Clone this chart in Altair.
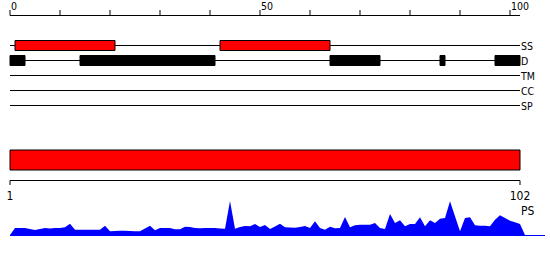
import altair as alt
import pandas as pd

FONT = "DejaVu Sans Condensed, DejaVu Sans"

# Tracks
tracks = ["SS", "D", "TM", "CC", "SP"]
ss_start = [1, 42]
ss_end = [21, 64]
d_start = [0, 14, 64, 86, 97]
d_end = [3, 41, 74, 87, 102]
seq_len = 102

# Ruler
ruler_ticks = [0, 10, 20, 30, 40, 50, 60, 70, 80, 90, 100]
ruler_labels = [0, 50, 100]

# Bottom sequence
ps_labels_pos = [0, 102]
ps_labels_text = ["1", "102"]

# Score profile (one value per position)
score = [0, 7, 7, 7, 6, 5, 6, 7, 6.5, 7, 7, 7.7, 11.3, 5.3, 5.3, 5.3, 5.3, 5.3, 5.3, 9.3,
         3.7, 4, 4.3, 4.3, 4, 3.7, 3.7, 6.5, 9.3, 4.7, 7, 7, 7, 5.7, 5.7, 8.3, 8, 7, 6.7, 7,
         7, 7, 6.5, 6.3, 34, 6.3, 8, 9, 8.7, 11, 8, 10, 6, 8.5, 11.3, 7.7, 7.5, 7.3, 8, 9,
         7, 13.7, 7, 5.3, 8.3, 6.7, 7, 18, 7.7, 9.7, 10.3, 10.3, 10.3, 12, 7, 6, 21, 12, 14.7, 8.7,
         11, 11, 17.7, 8.7, 14.7, 12, 16.3, 17, 33.7, 18.7, 3.7, 17, 17.7, 9.7, 9.3, 9.3, 8.7, 15.3, 19.7, 17,
         14.3, 12.7, 11, 0]
score_pos = list(range(len(score)))

xs = alt.Scale(domain=[0, 102], range=[10, 520])
ys_track = alt.Scale(type="point", domain=tracks, range=[45.5, 105.5], padding=0)

track_df = pd.DataFrame({"track": tracks, "start": [0] * len(tracks), "end": [seq_len] * len(tracks)})
ss_df = pd.DataFrame({"track": ["SS"] * len(ss_start), "start": ss_start, "end": ss_end})
d_df = pd.DataFrame({"track": ["D"] * len(d_start), "start": d_start, "end": d_end})
tick_df = pd.DataFrame({"t": ruler_ticks})
lab_df = pd.DataFrame({"t": ruler_labels})
ps_df = pd.DataFrame({"start": [0], "end": [seq_len]})
psl_df = pd.DataFrame({"pos": ps_labels_pos, "label": ps_labels_text})
score_df = pd.DataFrame({"pos": score_pos, "score": score})

X = lambda f: alt.X(f, type="quantitative", scale=xs, axis=None)

# Ruler
ruler_line = alt.Chart(ps_df).mark_rule(color="black", strokeWidth=1).encode(
    x=X("start"), x2="end", y=alt.value(15.5))
ruler_tick = alt.Chart(tick_df).mark_rule(color="black", strokeWidth=1).encode(
    x=X("t"), y=alt.value(10), y2=alt.value(15.5))
ruler_text = alt.Chart(lab_df).mark_text(align="left", baseline="alphabetic", dx=1,
                                         font=FONT, fontSize=10.5, color="black").encode(
    x=X("t"), y=alt.value(10), text="t:Q")

# Track lines
track_lines = alt.Chart(track_df).mark_rule(color="black", strokeWidth=1).encode(
    x=X("start"), x2="end", y=alt.Y("track:N", scale=ys_track, axis=None))
ss_bars = alt.Chart(ss_df).mark_bar(size=10, color="#ff0000", stroke="black", strokeWidth=1).encode(
    x=X("start"), x2="end", y=alt.Y("track:N", scale=ys_track, axis=None))
d_bars = alt.Chart(d_df).mark_bar(size=10, color="black", stroke="black", strokeWidth=1).encode(
    x=X("start"), x2="end", y=alt.Y("track:N", scale=ys_track, axis=None))
track_text = alt.Chart(track_df).mark_text(align="left", baseline="alphabetic", dy=4,
                                           font=FONT, fontSize=10.5, color="black").encode(
    x=alt.value(521), y=alt.Y("track:N", scale=ys_track, axis=None), text="track:N")

# Bottom sequence bar
ps_bar = alt.Chart(ps_df).mark_bar(color="#ff0000", stroke="black", strokeWidth=1).encode(
    x=X("start"), x2="end", y=alt.value(150), y2=alt.value(170))
ps_line = alt.Chart(ps_df).mark_rule(color="black", strokeWidth=1).encode(
    x=X("start"), x2="end", y=alt.value(180.5))
ps_ticks = alt.Chart(psl_df).mark_rule(color="black", strokeWidth=1).encode(
    x=X("pos"), y=alt.value(180.5), y2=alt.value(185))
ps_text = alt.Chart(psl_df).mark_text(align="center", baseline="alphabetic",
                                      font=FONT, fontSize=12, color="black").encode(
    x=X("pos"), y=alt.value(200), text="label:N")
ps_name = alt.Chart(pd.DataFrame({"n": ["PS"]})).mark_text(
    align="left", baseline="alphabetic", font=FONT, fontSize=12, color="black").encode(
    x=alt.value(521), y=alt.value(215), text="n:N")

# Profile
profile = alt.Chart(score_df).mark_area(color="#0000ff", opacity=1, interpolate="linear").encode(
    x=X("pos"), y=alt.Y("score:Q", scale=alt.Scale(domain=[0, 40], range=[235, 195]), axis=None))
base_line = alt.Chart(pd.DataFrame({"start": [0], "end": [107]})).mark_rule(
    color="#0000ff", strokeWidth=1).encode(x=X("start"), x2="end", y=alt.value(235.5))

chart = alt.layer(
    ruler_line, ruler_tick, ruler_text,
    track_lines, ss_bars, d_bars, track_text,
    ps_bar, ps_line, ps_ticks, ps_text, ps_name,
    base_line, profile,
).resolve_scale(y="independent").properties(
    width=550, height=260, padding=0, autosize=alt.AutoSizeParams(type="none")
).configure_view(stroke=None)

chart.save("out.html", embed_options={"renderer": "svg", "actions": False})
